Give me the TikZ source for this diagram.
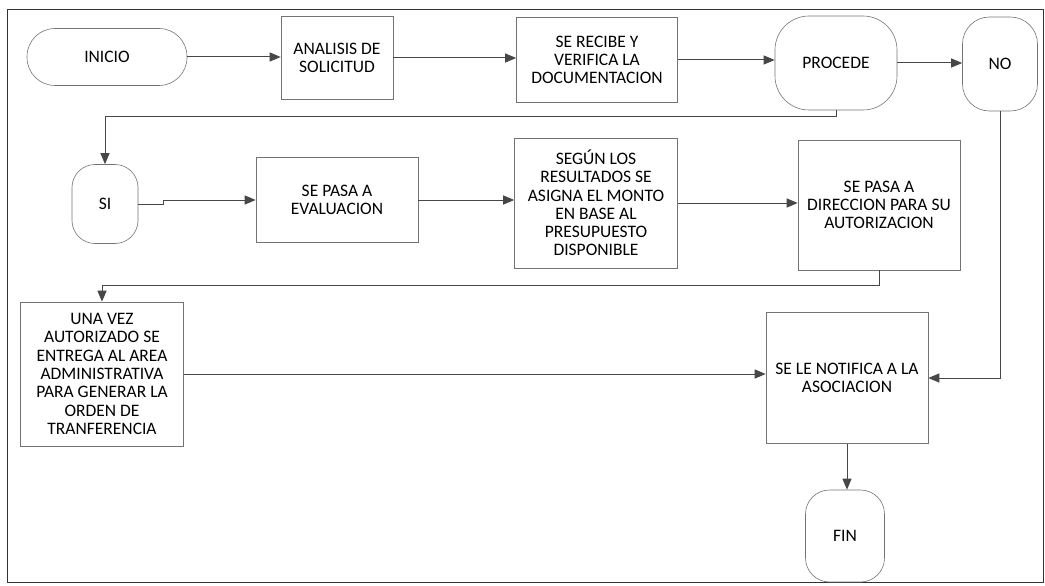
\documentclass[tikz,border=0pt]{standalone}
\usepackage{fontspec}
\setmainfont{Carlito}
\usetikzlibrary{arrows.meta,positioning,calc}

\begin{document}
\begin{tikzpicture}[x=1pt, y=-1pt,
    caja/.style={rectangle, draw=black!55, line width=0.6pt, align=center, inner sep=0pt, font=\fontsize{17.5}{18.3}\selectfont},
    term/.style={caja, rounded corners=#1},
    flecha/.style={draw=black!72, line width=1pt, -{Triangle[length=11pt,width=9pt]}}]

    \useasboundingbox (0,0) rectangle (1045,586);
    \draw[black!80, line width=1pt] (7,10) rectangle (1043,582);

    \node[term=28pt, minimum width=160pt, minimum height=57pt] (inicio) at (107,57) {INICIO};
    \node[caja, minimum width=112pt, minimum height=83pt] (analisis) at (337,58) {ANALISIS DE\\SOLICITUD};
    \node[caja, minimum width=161pt, minimum height=85pt] (recibe) at (597,60) {SE RECIBE Y\\VERIFICA LA\\DOCUMENTACION};
    \node[term=34pt, minimum width=122pt, minimum height=94pt] (procede) at (836,63) {PROCEDE};
    \node[term=27pt, minimum width=75pt, minimum height=94pt] (no) at (1000,64) {NO};

    \node[term=23pt, minimum width=66pt, minimum height=79pt] (si) at (105,204) {SI};
    \node[caja, minimum width=162pt, minimum height=85pt] (evaluacion) at (337,200) {SE PASA A\\EVALUACION};
    \node[caja, minimum width=163pt, minimum height=130pt] (segun) at (596,203) {SEGÚN LOS\\RESULTADOS SE\\ASIGNA EL MONTO\\EN BASE AL\\PRESUPUESTO\\DISPONIBLE};
    \node[caja, minimum width=162pt, minimum height=130pt] (direccion) at (879,205) {SE PASA A\\DIRECCION PARA SU\\AUTORIZACION};

    \node[caja, minimum width=163pt, minimum height=144pt] (una) at (102,374) {UNA VEZ\\AUTORIZADO SE\\ENTREGA AL AREA\\ADMINISTRATIVA\\PARA GENERAR LA\\ORDEN DE\\TRANFERENCIA};
    \node[caja, minimum width=162pt, minimum height=131pt] (notifica) at (847,378) {SE LE NOTIFICA A LA\\ASOCIACION};
    \node[term=24pt, minimum width=79pt, minimum height=92pt] (fin) at (845,536) {FIN};

    \foreach \s/\d in {inicio/analisis, analisis/recibe, recibe/procede, procede/no, evaluacion/segun, segun/direccion, una/notifica}{
        \draw[flecha] (\s.east) -- (\s.east -| \d.west);
    }

    \draw[flecha] (procede.south) -- ++(0,6) -| (si.north);
    \draw[flecha] (si.east) -- ++(25,0) |- (evaluacion.west);
    \draw[flecha] (direccion.south) -- ++(0,15) -| (una.north);
    \draw[flecha] (no.south) |- (notifica.east);
    \draw[flecha] (notifica.south) -- (notifica.south |- fin.north);
\end{tikzpicture}
\end{document}
